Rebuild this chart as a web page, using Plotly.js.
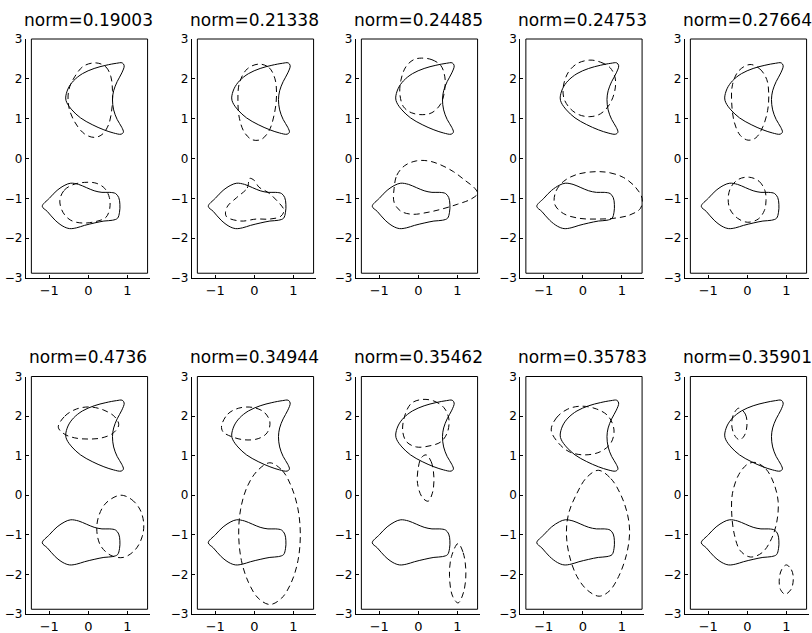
<!DOCTYPE html>
<html>
<head>
<meta charset="utf-8">
<script src="https://cdn.plot.ly/plotly-3.0.1.min.js"></script>
<style>html,body{margin:0;padding:0;background:#fff;}#chart{width:812px;height:633px;}</style>
</head>
<body>
<div id="chart"></div>
<script>
// ---------- data ----------
const norms = ["0.19003","0.21338","0.24485","0.24753","0.27664","0.4736","0.34944","0.35462","0.35783","0.35901"];
const xTicks = [-1, 0, 1];
const yTicks = [-3, -2, -1, 0, 1, 2, 3];

// solid reference shapes (same in every panel)
const moonX = [-0.58,-0.52,-0.38,-0.15,0.15,0.45,0.72,0.87,0.92,0.86,0.74,0.65,0.62,0.65,0.74,0.86,0.90,0.84,0.65,0.40,0.10,-0.20,-0.42,-0.55,-0.58];
const moonY = [1.52,1.75,1.95,2.13,2.26,2.34,2.39,2.40,2.33,2.15,1.93,1.70,1.48,1.22,0.98,0.78,0.66,0.61,0.64,0.72,0.85,1.02,1.22,1.40,1.52];
const bulbX = [-1.18,-1.00,-0.80,-0.60,-0.45,-0.25,-0.05,0.15,0.35,0.55,0.70,0.78,0.81,0.80,0.75,0.62,0.40,0.15,-0.10,-0.30,-0.48,-0.65,-0.85,-1.05,-1.18];
const bulbY = [-1.20,-1.00,-0.80,-0.67,-0.62,-0.65,-0.73,-0.81,-0.85,-0.85,-0.88,-0.98,-1.15,-1.35,-1.50,-1.55,-1.57,-1.62,-1.68,-1.74,-1.76,-1.70,-1.55,-1.33,-1.20];

// dashed curves, panel by panel
const p1a = {x:[0.20,0.45,0.58,0.62,0.61,0.52,0.35,0.15,-0.10,-0.35,-0.50,-0.50,-0.35,-0.12,0.20],
             y:[2.40,2.30,2.05,1.70,1.30,0.85,0.60,0.53,0.62,0.92,1.30,1.72,2.05,2.32,2.40]};
const p1b = {x:[-0.73,-0.62,-0.40,-0.10,0.20,0.42,0.54,0.55,0.45,0.20,-0.15,-0.45,-0.65,-0.73],
             y:[-1.05,-0.80,-0.66,-0.60,-0.62,-0.75,-0.98,-1.25,-1.48,-1.58,-1.62,-1.55,-1.35,-1.05]};
const p2a = {x:[0.12,0.38,0.53,0.57,0.52,0.38,0.18,-0.05,-0.25,-0.38,-0.42,-0.38,-0.18,0.12],
             y:[2.37,2.28,2.00,1.60,1.15,0.70,0.48,0.47,0.65,1.00,1.45,1.90,2.25,2.37]};
const p2b = {x:[-0.45,-0.18,-0.12,0.00,0.12,0.35,0.60,0.76,0.68,0.40,0.05,-0.35,-0.72,-0.70,-0.45],
             y:[-0.98,-0.74,-0.50,-0.55,-0.72,-0.85,-1.08,-1.30,-1.45,-1.52,-1.52,-1.57,-1.45,-1.22,-0.98]};
const p3a = {x:[0.08,0.35,0.58,0.68,0.68,0.58,0.35,0.10,-0.18,-0.38,-0.47,-0.45,-0.32,-0.12,0.08],
             y:[2.52,2.48,2.33,2.05,1.75,1.38,1.15,1.10,1.15,1.30,1.60,1.95,2.30,2.48,2.52]};
const p3b = {x:[-0.62,-0.55,-0.35,-0.05,0.25,0.55,0.90,1.20,1.45,1.52,1.35,1.00,0.60,0.25,-0.15,-0.45,-0.62,-0.62],
             y:[-0.75,-0.42,-0.18,-0.06,-0.06,-0.15,-0.33,-0.55,-0.75,-0.88,-1.02,-1.15,-1.27,-1.35,-1.40,-1.32,-1.10,-0.75]};
const p4a = {x:[0.18,0.45,0.70,0.83,0.82,0.68,0.45,0.18,-0.10,-0.32,-0.48,-0.50,-0.38,-0.15,0.18],
             y:[2.47,2.42,2.28,2.02,1.70,1.35,1.12,1.05,1.10,1.25,1.50,1.80,2.15,2.38,2.47]};
const p4b = {x:[0.35,0.70,1.05,1.35,1.52,1.48,1.20,0.80,0.35,-0.10,-0.50,-0.72,-0.70,-0.50,-0.15,0.35],
             y:[-0.33,-0.36,-0.48,-0.72,-1.00,-1.25,-1.42,-1.50,-1.52,-1.50,-1.38,-1.15,-0.85,-0.58,-0.40,-0.33]};
const p5a = {x:[0.07,0.32,0.50,0.55,0.52,0.40,0.22,0.02,-0.18,-0.33,-0.40,-0.38,-0.22,0.07],
             y:[2.36,2.25,1.98,1.60,1.20,0.80,0.52,0.46,0.58,0.90,1.40,1.85,2.20,2.36]};
const p5b = {x:[0.05,0.30,0.45,0.48,0.44,0.28,0.00,-0.25,-0.44,-0.49,-0.42,-0.22,0.05],
             y:[-0.47,-0.57,-0.80,-1.05,-1.30,-1.52,-1.60,-1.50,-1.28,-1.00,-0.72,-0.52,-0.47]};
const p6a = {x:[-0.77,-0.60,-0.30,0.05,0.40,0.68,0.78,0.65,0.35,0.00,-0.35,-0.62,-0.77],
             y:[1.72,2.00,2.18,2.23,2.15,1.98,1.78,1.58,1.45,1.42,1.45,1.55,1.72]};
const p6b = {x:[0.82,1.10,1.32,1.42,1.38,1.20,0.90,0.58,0.32,0.22,0.26,0.45,0.82],
             y:[0.00,-0.10,-0.35,-0.70,-1.05,-1.38,-1.57,-1.52,-1.28,-0.92,-0.55,-0.20,0.00]};
const p7a = {x:[-0.84,-0.68,-0.40,-0.05,0.25,0.40,0.33,0.10,-0.25,-0.58,-0.80,-0.84],
             y:[1.75,2.05,2.20,2.22,2.10,1.85,1.58,1.43,1.40,1.48,1.60,1.75]};
const p7b = {x:[0.40,0.72,0.95,1.12,1.18,1.12,0.95,0.70,0.40,0.10,-0.15,-0.33,-0.40,-0.35,-0.18,0.08,0.40],
             y:[0.82,0.62,0.22,-0.35,-1.00,-1.65,-2.20,-2.60,-2.76,-2.60,-2.20,-1.65,-1.00,-0.35,0.22,0.62,0.82]};
const p8a = {x:[0.10,0.40,0.65,0.78,0.75,0.58,0.30,-0.05,-0.30,-0.40,-0.35,-0.18,0.10],
             y:[2.42,2.38,2.22,1.95,1.60,1.35,1.25,1.22,1.35,1.62,2.00,2.32,2.42]};
const p8b = {x:[0.20,0.33,0.40,0.36,0.25,0.10,-0.02,0.00,0.08,0.20],
             y:[1.02,0.85,0.45,0.05,-0.15,-0.05,0.30,0.70,0.95,1.02]};
const p8c = {x:[1.02,1.15,1.22,1.16,1.02,0.88,0.80,0.85,1.02],
             y:[-1.22,-1.45,-1.95,-2.45,-2.72,-2.55,-2.05,-1.55,-1.22]};
const p9a = {x:[-0.81,-0.68,-0.40,-0.05,0.35,0.65,0.80,0.72,0.45,0.05,-0.35,-0.65,-0.81],
             y:[1.65,1.95,2.17,2.25,2.18,2.00,1.65,1.32,1.10,1.02,1.10,1.35,1.65]};
const p9b = {x:[0.40,0.72,0.98,1.15,1.20,1.12,0.92,0.68,0.42,0.12,-0.15,-0.35,-0.42,-0.36,-0.15,0.10,0.40],
             y:[0.63,0.42,0.00,-0.50,-0.95,-1.50,-2.05,-2.42,-2.55,-2.40,-2.05,-1.50,-0.95,-0.45,0.05,0.45,0.63]};
const p10a = {x:[-0.22,-0.05,-0.01,-0.08,-0.20,-0.33,-0.40,-0.35,-0.22],
              y:[2.20,2.05,1.75,1.50,1.40,1.52,1.80,2.05,2.20]};
const p10b = {x:[0.20,0.48,0.68,0.79,0.76,0.62,0.38,0.08,-0.18,-0.33,-0.40,-0.38,-0.22,0.00,0.20],
              y:[0.83,0.66,0.30,-0.15,-0.65,-1.10,-1.45,-1.56,-1.40,-1.00,-0.45,0.05,0.52,0.78,0.83]};
const p10c = {x:[1.00,1.13,1.18,1.12,0.97,0.85,0.82,0.88,1.00],
              y:[-1.76,-1.88,-2.10,-2.38,-2.50,-2.38,-2.12,-1.88,-1.76]};

const dashedByPanel = [[p1a,p1b],[p2a,p2b],[p3a,p3b],[p4a,p4b],[p5a,p5b],
                       [p6a,p6b],[p7a,p7b],[p8a,p8b,p8c],[p9a,p9b],[p10a,p10b,p10c]];

// ---------- layout geometry ----------
const W = 812, H = 633;
const colC = [88.3, 254.3, 418.3, 582.8, 747.3];
const rowTop = [39, 376.5], rowBot = [278, 614];
const titleY = [19.5, 356.5];
const pxu = 39;
const xr = [-1.6, 1.58], yr = [-3, 3];
const frameX = [-1.46, 1.52], frameY = [-2.88, 3];
const FONT = "DejaVu Sans, Liberation Sans, Arial, sans-serif";

const traces = [];
const layout = {
  width: W, height: H,
  margin: {l:0, r:0, t:0, b:0},
  paper_bgcolor: "#fff", plot_bgcolor: "rgba(0,0,0,0)",
  showlegend: false, hovermode: false,
  shapes: [], annotations: []
};

const solidLine = {color:"#000", width:1, shape:"spline", smoothing:1};
const dashLine = {color:"#000", width:1, shape:"spline", smoothing:1, dash:"6px,4px"};

for (let i = 0; i < 10; i++) {
  const r = Math.floor(i / 5), c = i % 5;
  const sfx = i === 0 ? "" : String(i + 1);
  const xa = "x" + sfx, ya = "y" + sfx;
  layout["xaxis" + sfx] = {
    domain: [(colC[c] + xr[0]*pxu)/W, (colC[c] + xr[1]*pxu)/W],
    range: xr, anchor: ya, showgrid:false, zeroline:false,
    showline:true, linecolor:"#000", linewidth:1,
    ticks:"inside", ticklen:3, tickwidth:1, tickcolor:"#000",
    tickvals: xTicks, tickfont:{family:FONT, size:13, color:"#000"},
    fixedrange:true
  };
  layout["yaxis" + sfx] = {
    domain: [1 - rowBot[r]/H, 1 - rowTop[r]/H],
    range: yr, anchor: xa, showgrid:false, zeroline:false,
    showline:true, linecolor:"#000", linewidth:1,
    ticks:"inside", ticklen:3, tickwidth:1, tickcolor:"#000",
    tickvals: yTicks, tickfont:{family:FONT, size:12, color:"#000"},
    fixedrange:true
  };
  // inner box
  layout.shapes.push({
    type:"rect", xref: xa + " domain", yref: ya + " domain",
    x0: (frameX[0]-xr[0])/(xr[1]-xr[0]), x1: (frameX[1]-xr[0])/(xr[1]-xr[0]),
    y0: (frameY[0]-yr[0])/(yr[1]-yr[0]), y1: (frameY[1]-yr[0])/(yr[1]-yr[0]),
    line:{color:"#000", width:1}
  });
  layout.annotations.push({
    text: "norm=" + norms[i], xref:"paper", yref:"paper",
    x: colC[c]/W, y: 1 - titleY[r]/H, xanchor:"center", yanchor:"middle",
    showarrow:false, font:{family:FONT, size:17, color:"#000"}
  });
  traces.push({x: moonX, y: moonY, xaxis: xa, yaxis: ya, mode:"lines", line: solidLine});
  traces.push({x: bulbX, y: bulbY, xaxis: xa, yaxis: ya, mode:"lines", line: solidLine});
  dashedByPanel[i].forEach(d => {
    traces.push({x: d.x, y: d.y, xaxis: xa, yaxis: ya, mode:"lines", line: dashLine});
  });
}

Plotly.newPlot("chart", traces, layout, {displayModeBar:false, staticPlot:true});
</script>
</body>
</html>
